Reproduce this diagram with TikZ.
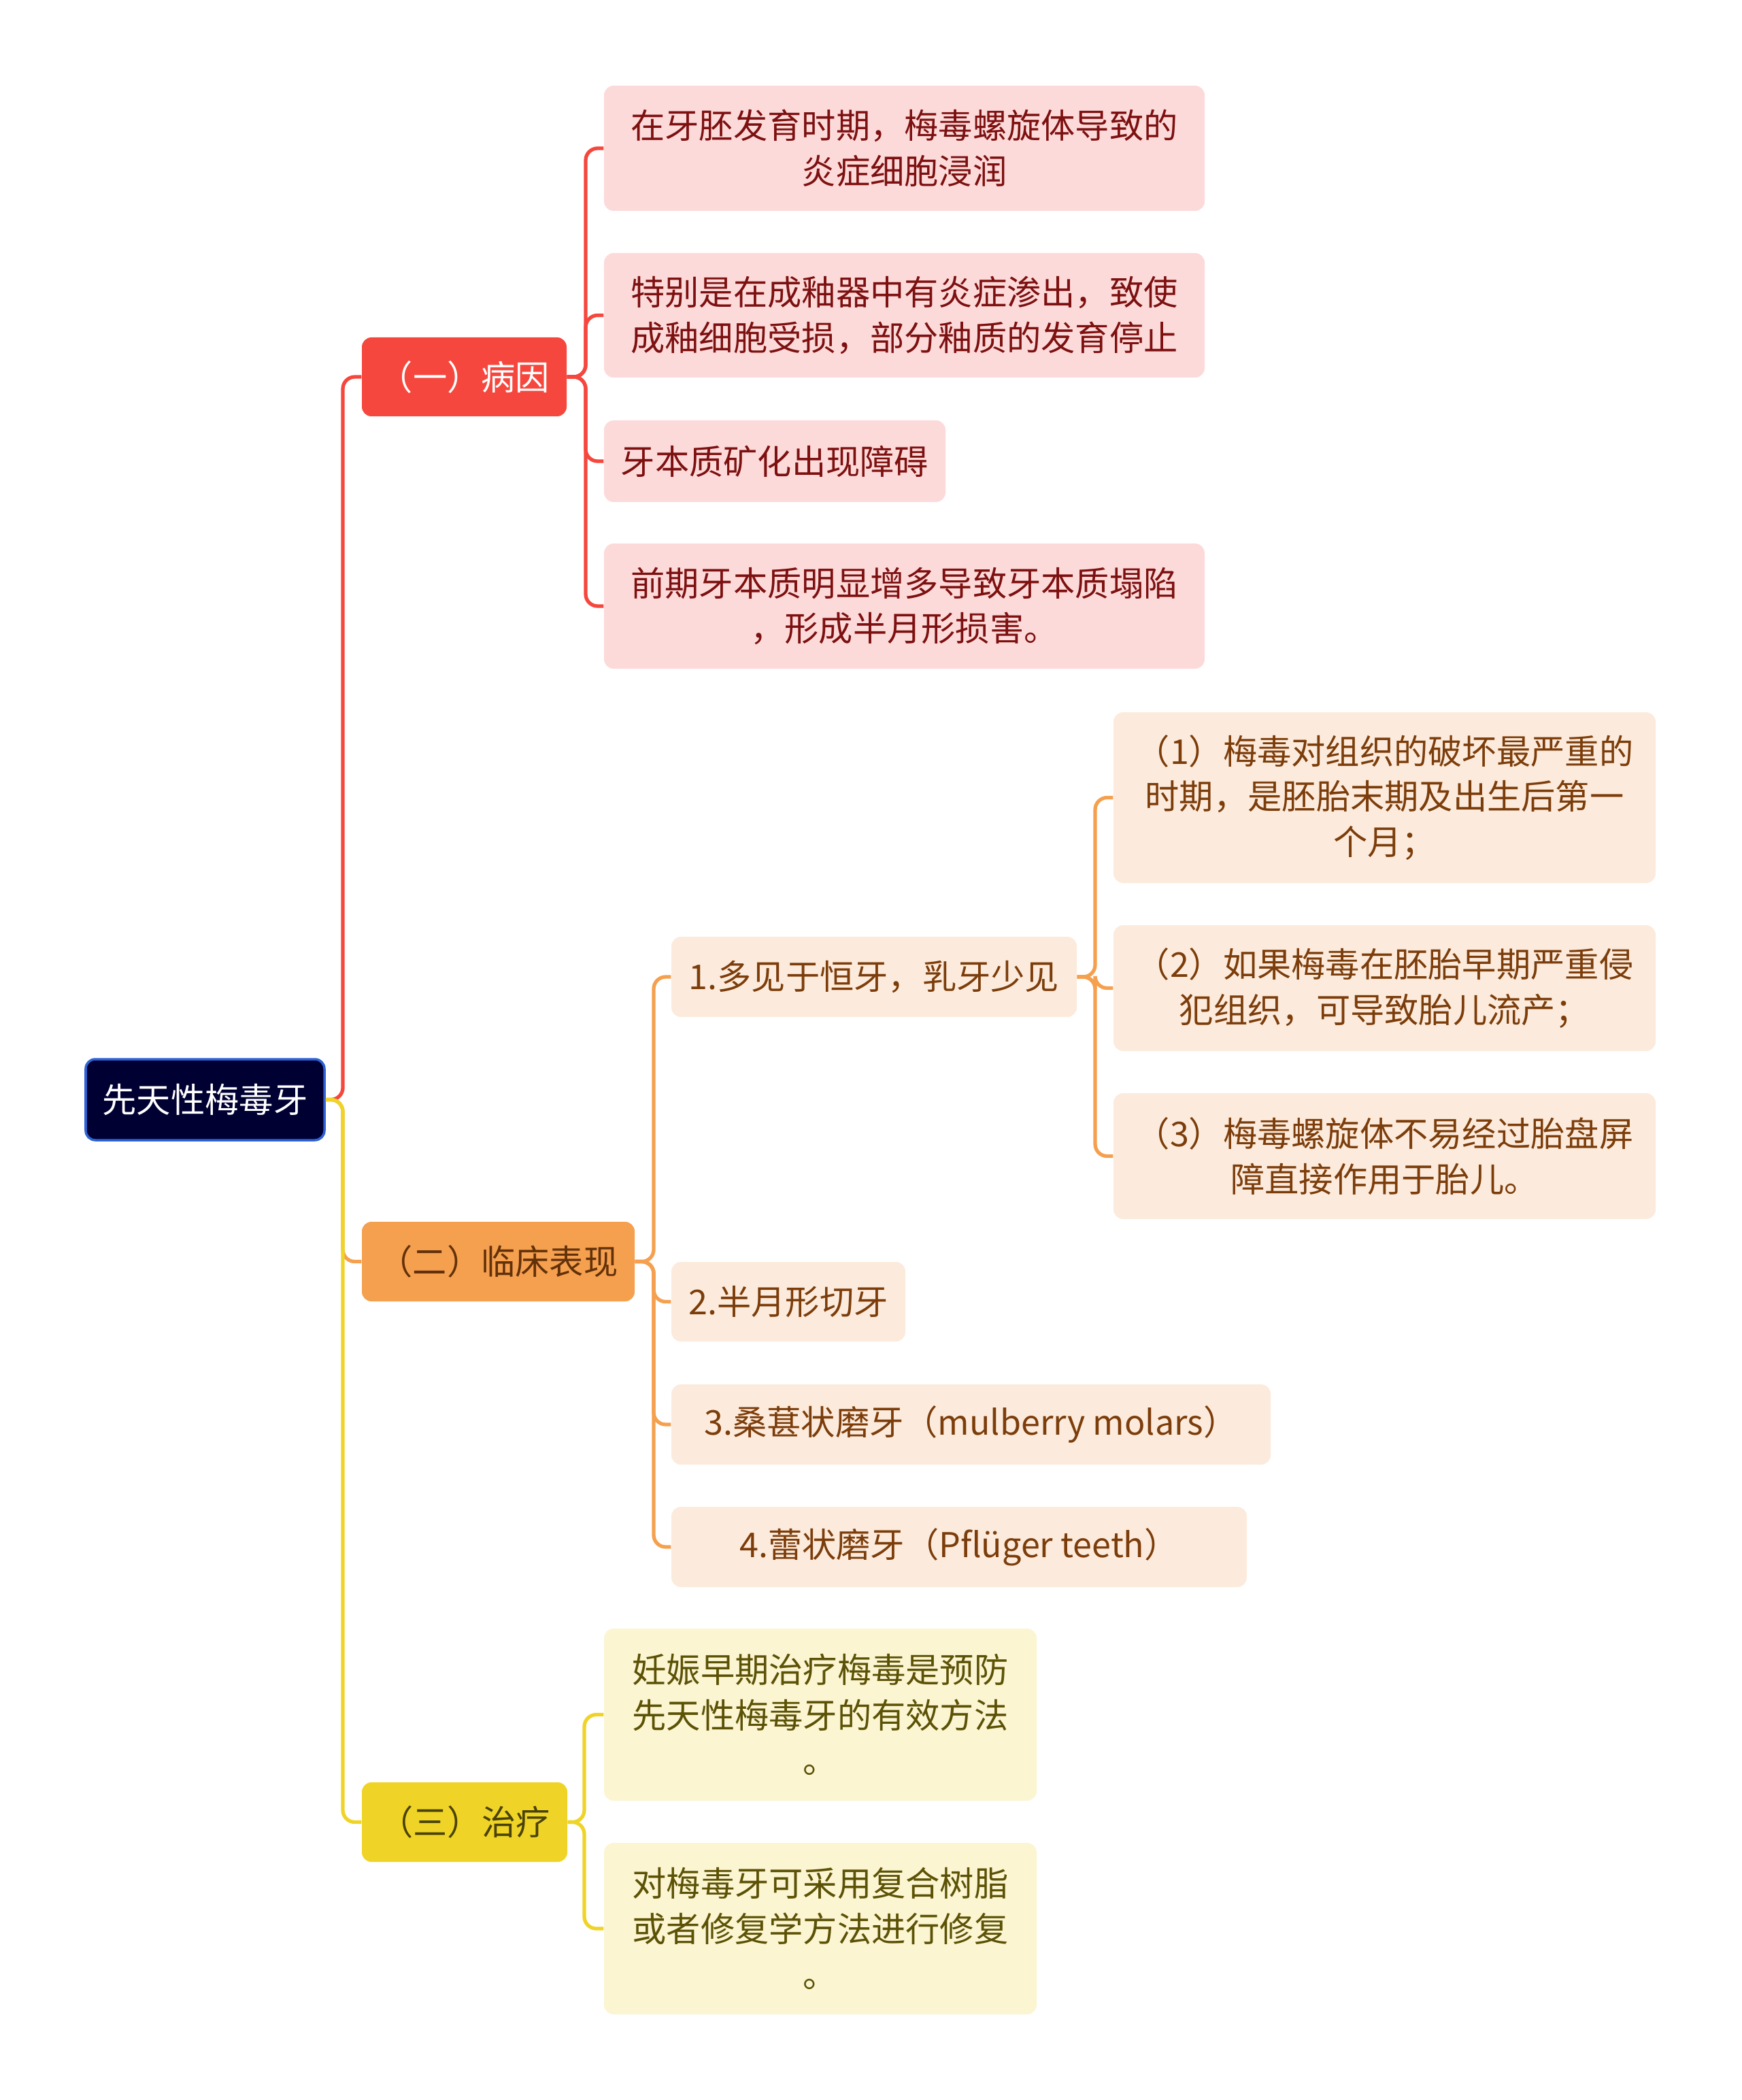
\documentclass[tikz,border=0pt]{standalone}
\usepackage{fontspec}
\setmainfont{Noto Sans CJK SC}
\usepackage{xcolor}
\usetikzlibrary{positioning}

\definecolor{rootfill}{HTML}{000033}
\definecolor{rootedge}{HTML}{2F62D3}
\definecolor{redmain}{HTML}{F5473D}
\definecolor{redleaf}{HTML}{FDDADA}
\definecolor{redtext}{HTML}{7D1010}
\definecolor{orgmain}{HTML}{F5A04F}
\definecolor{orgleaf}{HTML}{FCEBDC}
\definecolor{orgtext}{HTML}{7C3D0B}
\definecolor{ylwmain}{HTML}{EFD427}
\definecolor{ylwleaf}{HTML}{FBF5D2}
\definecolor{ylwtext}{HTML}{5C5206}

\begin{document}
\begin{tikzpicture}[
  box/.style={rounded corners=4pt, inner sep=0pt, align=center,
    font=\fontsize{14.3pt}{19pt}\selectfont},
  rootbox/.style={box, fill=rootfill, draw=rootedge, line width=1pt, text=white},
  redtopic/.style={box, fill=redmain, text=white},
  orgtopic/.style={box, fill=orgmain, text=orgtext!80!black},
  ylwtopic/.style={box, fill=ylwmain, text=ylwtext!80!black},
  redsub/.style={box, fill=redleaf, text=redtext},
  orgsub/.style={box, fill=orgleaf, text=orgtext},
  ylwsub/.style={box, fill=ylwleaf, text=ylwtext},
  link/.style={line width=1.5pt, rounded corners=5pt},
]
\useasboundingbox (0,0) rectangle (25.6,-30.87);

% root and main topics
\node[rootbox, minimum width=3.51cm, minimum height=1.19cm] (root) at (3.015,-16.165) {先天性梅毒牙};
\node[redtopic, minimum width=3.01cm, minimum height=1.16cm] (cause) at (6.825,-5.54) {（一）病因};
\node[orgtopic, minimum width=4.01cm, minimum height=1.17cm] (sign) at (7.325,-18.545) {（二）临床表现};
\node[ylwtopic, minimum width=3.02cm, minimum height=1.17cm] (cure) at (6.83,-26.785) {（三）治疗};

% (一)
\node[redsub, minimum width=8.83cm, minimum height=1.84cm] (cause1) at (13.295,-2.18) {在牙胚发育时期，梅毒螺旋体导致的\\炎症细胞浸润};
\node[redsub, minimum width=8.83cm, minimum height=1.83cm] (cause2) at (13.295,-4.635) {特别是在成釉器中有炎症渗出，致使\\成釉细胞受损，部分釉质的发育停止};
\node[redsub, minimum width=5.02cm, minimum height=1.20cm] (cause3) at (11.39,-6.78) {牙本质矿化出现障碍};
\node[redsub, minimum width=8.83cm, minimum height=1.84cm] (cause4) at (13.295,-8.91) {前期牙本质明显增多导致牙本质塌陷\\，形成半月形损害。};

% (二)
\node[orgsub, minimum width=5.96cm, minimum height=1.18cm] (sign1) at (12.85,-14.36) {1.多见于恒牙，乳牙少见};
\node[orgsub, minimum width=3.44cm, minimum height=1.17cm] (sign2) at (11.59,-19.135) {2.半月形切牙};
\node[orgsub, minimum width=8.81cm, minimum height=1.18cm] (sign3) at (14.275,-20.94) {3.桑葚状磨牙（mulberry molars）};
\node[orgsub, minimum width=8.46cm, minimum height=1.18cm] (sign4) at (14.10,-22.74) {4.蕾状磨牙（Pflüger teeth）};

\node[orgsub, minimum width=7.97cm, minimum height=2.51cm] (time1) at (20.355,-11.725) {（1）梅毒对组织的破坏最严重的\\时期，是胚胎末期及出生后第一\\个月；};
\node[orgsub, minimum width=7.97cm, minimum height=1.85cm] (time2) at (20.355,-14.525) {（2）如果梅毒在胚胎早期严重侵\\犯组织，可导致胎儿流产；};
\node[orgsub, minimum width=7.97cm, minimum height=1.85cm] (time3) at (20.355,-16.995) {（3）梅毒螺旋体不易经过胎盘屏\\障直接作用于胎儿。};

% (三)
\node[ylwsub, minimum width=6.36cm, minimum height=2.53cm] (cure1) at (12.06,-25.205) {妊娠早期治疗梅毒是预防\\先天性梅毒牙的有效方法\\。};
\node[ylwsub, minimum width=6.36cm, minimum height=2.52cm] (cure2) at (12.06,-28.35) {对梅毒牙可采用复合树脂\\或者修复学方法进行修复\\。};

% junctions
\coordinate (trunk) at (5.04,-16.165);
\coordinate (jcause) at (8.61,-5.54);
\coordinate (jsign) at (9.61,-18.545);
\coordinate (jtime) at (16.10,-14.36);
\coordinate (jcure) at (8.59,-26.785);

\draw[link, redmain] (root.east) -- (trunk) |- (cause.west);
\draw[link, orgmain] (root.east) -- (trunk) |- (sign.west);
\draw[link, ylwmain] (root.east) -- (trunk) |- (cure.west);

\foreach \n in {cause1,cause2,cause3,cause4}
  \draw[link, redmain] (cause.east) -- (jcause) |- (\n.west);
\foreach \n in {sign1,sign2,sign3,sign4}
  \draw[link, orgmain] (sign.east) -- (jsign) |- (\n.west);
\foreach \n in {time1,time2,time3}
  \draw[link, orgmain] (sign1.east) -- (jtime) |- (\n.west);
\foreach \n in {cure1,cure2}
  \draw[link, ylwmain] (cure.east) -- (jcure) |- (\n.west);

\end{tikzpicture}
\end{document}
